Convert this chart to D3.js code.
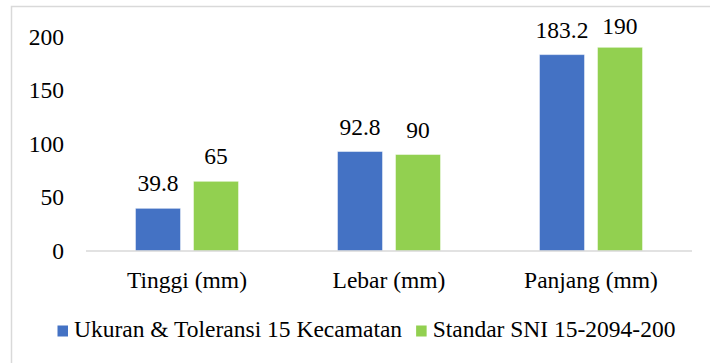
<!DOCTYPE html>
<html>
<head>
<meta charset="utf-8">
<script src="https://cdn.jsdelivr.net/npm/d3@7/dist/d3.min.js"></script>
<style>
  html, body { margin: 0; padding: 0; background: #fff; overflow: hidden; }
  svg { display: block; }
  text { font-family: "Liberation Serif", "Times New Roman", serif; fill: #000; }
</style>
</head>
<body>
<svg id="chart" width="710" height="363"></svg>
<script>
// Chart data
const categories = ["Tinggi (mm)", "Lebar (mm)", "Panjang (mm)"];
const seriesNames = ["Ukuran & Toleransi 15 Kecamatan", "Standar SNI 15-2094-200"];
const ukuranValues = [39.8, 92.8, 183.2];
const standarValues = [65, 90, 190];
const yTicks = [0, 50, 100, 150, 200];
const seriesColors = ["#4472C4", "#92D050"];

const svg = d3.select("#chart");
const W = 710, H = 363;
const fontSize = 23.5;

// Outer chart frame
svg.append("rect")
  .attr("x", 11.5).attr("y", 6.5)
  .attr("width", W + 20).attr("height", H + 20)
  .attr("fill", "#fff")
  .attr("stroke", "#d9d9d9").attr("stroke-width", 1.5);

const plot = { left: 86, right: 692, top: 36.6, bottom: 251 };

const x0 = d3.scaleBand()
  .domain(categories)
  .range([plot.left, plot.right])
  .paddingInner(0.49)
  .paddingOuter(0.245);

const x1 = d3.scaleBand()
  .domain(seriesNames)
  .range([0, x0.bandwidth()])
  .paddingInner(0.2241);

const y = d3.scaleLinear()
  .domain([0, 200])
  .range([plot.bottom, plot.top]);

// Y tick labels (no axis line or gridlines)
svg.append("g")
  .selectAll("text")
  .data(yTicks)
  .join("text")
  .attr("x", 64)
  .attr("y", d => y(d) + 8)
  .attr("text-anchor", "end")
  .attr("font-size", fontSize)
  .text(d => d);

// Bars
const series = [ukuranValues, standarValues];
const groups = svg.append("g")
  .selectAll("g")
  .data(categories)
  .join("g")
  .attr("transform", d => `translate(${x0(d)},0)`);

groups.selectAll("rect")
  .data((d, i) => seriesNames.map((s, j) => ({ s, v: series[j][i], j })))
  .join("rect")
  .attr("x", d => x1(d.s))
  .attr("y", d => y(d.v))
  .attr("width", x1.bandwidth())
  .attr("height", d => plot.bottom - y(d.v))
  .attr("fill", d => seriesColors[d.j])
  .attr("stroke", "#ffffff")
  .attr("stroke-opacity", 0.45)
  .attr("stroke-width", 1);

// Value labels, kept inside the plot area near the top
groups.selectAll("text")
  .data((d, i) => seriesNames.map((s, j) => ({ s, v: series[j][i], j })))
  .join("text")
  .attr("x", d => x1(d.s) + x1.bandwidth() / 2)
  .attr("y", d => Math.max(y(d.v) - 17, 34.3))
  .attr("text-anchor", "middle")
  .attr("font-size", fontSize)
  .text(d => d.v);

// Category axis baseline
svg.append("line")
  .attr("x1", plot.left).attr("x2", plot.right)
  .attr("y1", plot.bottom).attr("y2", plot.bottom)
  .attr("stroke", "#d9d9d9").attr("stroke-width", 1.5);

// Category labels
svg.append("g")
  .selectAll("text")
  .data(categories)
  .join("text")
  .attr("x", d => x0(d) + x0.bandwidth() / 2)
  .attr("y", 287.5)
  .attr("text-anchor", "middle")
  .attr("font-size", fontSize)
  .text(d => d);

// Legend
const legend = svg.append("g");
let lx = 57.5;
seriesNames.forEach((name, i) => {
  legend.append("rect")
    .attr("x", lx).attr("y", 325.5)
    .attr("width", 10.5).attr("height", 11)
    .attr("fill", seriesColors[i]);
  const t = legend.append("text")
    .attr("x", lx + 16.5)
    .attr("y", 337.3)
    .attr("font-size", fontSize)
    .text(name);
  lx = lx + 16.5 + t.node().getComputedTextLength() + 14;
});
</script>
</body>
</html>
